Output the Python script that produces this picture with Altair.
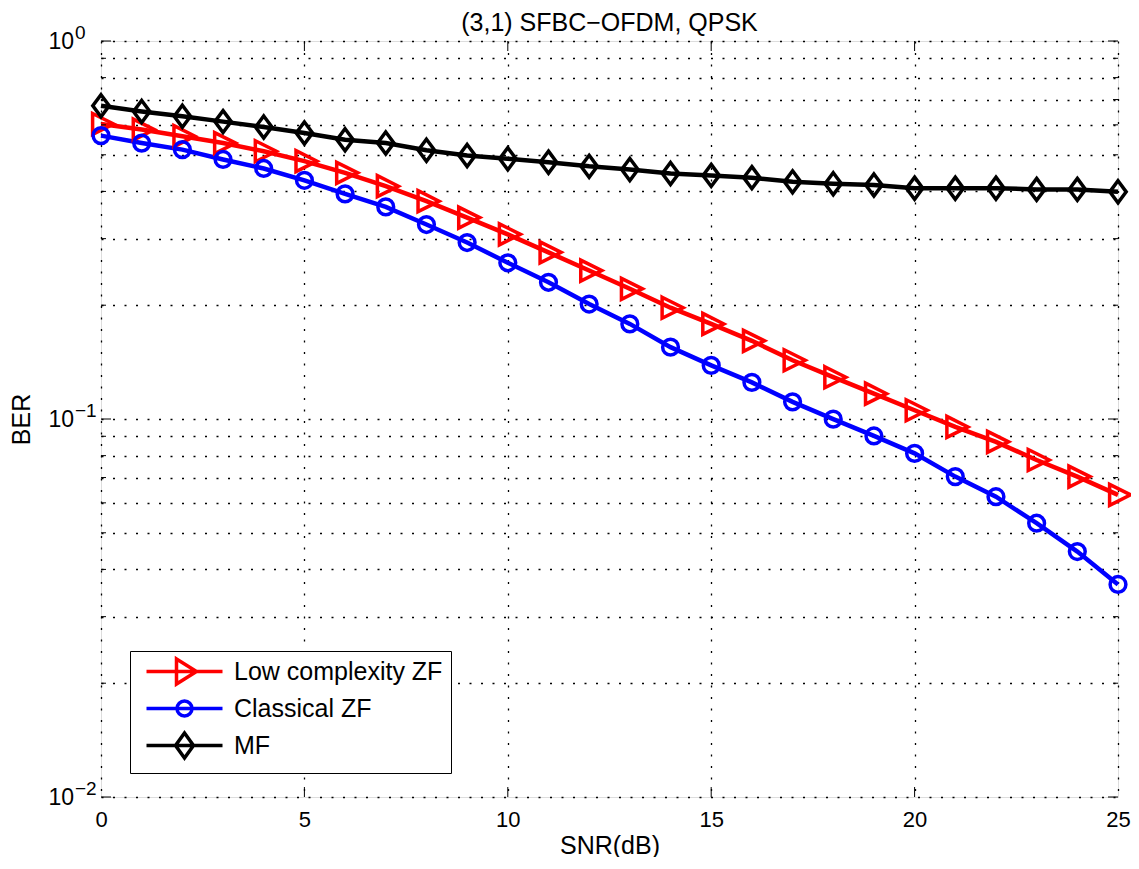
import altair as alt
import pandas as pd

# ---------------- data ----------------
snr_db = list(range(26))
series_names = ["Low complexity ZF", "Classical ZF", "MF"]
series_colors = ["#ff0000", "#0000ff", "#000000"]

ber_low_zf = [0.603, 0.583, 0.560, 0.537, 0.511, 0.481, 0.448, 0.413, 0.377, 0.341,
              0.308, 0.276, 0.247, 0.221, 0.197, 0.1785, 0.161, 0.143, 0.129, 0.1167,
              0.1055, 0.0953, 0.0870, 0.0779, 0.0704, 0.0630]
ber_classical_zf = [0.562, 0.537, 0.516, 0.486, 0.460, 0.428, 0.394, 0.364, 0.327, 0.293,
                    0.259, 0.230, 0.2014, 0.1785, 0.1549, 0.1386, 0.1250, 0.1110, 0.0999, 0.0902,
                    0.0811, 0.0704, 0.0623, 0.0530, 0.0446, 0.0365]
ber_mf = [0.674, 0.651, 0.632, 0.612, 0.592, 0.571, 0.548, 0.537, 0.514, 0.498,
          0.488, 0.478, 0.466, 0.457, 0.446, 0.441, 0.435, 0.424, 0.419, 0.416,
          0.408, 0.408, 0.408, 0.405, 0.405, 0.399]

x_ticks = [0, 5, 10, 15, 20, 25]
x_inner_ticks = [5, 10, 15, 20]
y_major = [0.01, 0.1, 1.0]
y_major_mant = ["10", "10", "10"]
y_major_exp = ["\u22122", "\u22121", "0"]
y_minor = [0.02, 0.03, 0.04, 0.05, 0.06, 0.07, 0.08, 0.09,
           0.2, 0.3, 0.4, 0.5, 0.6, 0.7, 0.8, 0.9]

title_text = "(3,1) SFBC\u2212OFDM, QPSK"

rows = []
for name, vals in zip(series_names, [ber_low_zf, ber_classical_zf, ber_mf]):
    for s, b in zip(snr_db, vals):
        rows.append({"snr": s, "ber": b, "series": name})
df = pd.DataFrame(rows)

# ---------------- styling ----------------
W, H = 1017, 756
FONT = "Liberation Sans"

# marker shapes (custom paths, unit coords)
shape_tri = "M-0.8,-1L1.2,0L-0.8,1Z"
shape_circ = "M-0.75,0A0.75,0.75,0,1,0,0.75,0A0.75,0.75,0,1,0,-0.75,0Z"
shape_dia = "M0,-1.05L0.78,0L0,1.05L-0.78,0Z"
shape_paths = [shape_tri, shape_circ, shape_dia]

# legend symbols: line + marker, shifted right
leg_line = "M-0.4,0L7.2,0"
leg_paths = [
    leg_line + "M2.6,-1.25L4.6,0L2.6,1.25Z",
    leg_line + "M2.65,0A0.75,0.75,0,1,0,4.15,0A0.75,0.75,0,1,0,2.65,0Z",
    leg_line + "M3.4,-1.25L4.3,0L3.4,1.25L2.5,0Z",
]

yscale = alt.Scale(type="log", domain=[0.01, 1], nice=False)
xscale = alt.Scale(domain=[0, 25], nice=False, zero=False)
cscale = alt.Scale(domain=series_names, range=series_colors)

xaxis = alt.Axis(values=x_ticks, grid=True, gridDash=[2, 9.5], gridColor="#000",
                 gridWidth=1.3, gridOpacity=1, ticks=False, tickSize=0, domain=False,
                 labelFontSize=22, labelFont=FONT, labelColor="#000", labelPadding=12,
                 labelFlush=False, title="SNR(dB)", titleFontSize=25, titleFont=FONT,
                 titleFontWeight="normal", titleColor="#000", titleX=W / 2, titleY=56,
                 titleBaseline="alphabetic", titleAlign="center")
yaxis = alt.Axis(values=y_major + y_minor, grid=True, gridDash=[2, 9.5], gridColor="#000",
                 gridWidth=1.3, gridOpacity=1, ticks=False, tickSize=0, domain=False,
                 labels=False, title="BER", titleFontSize=25, titleFont=FONT,
                 titleFontWeight="normal", titleColor="#000", titleX=-72, titleY=H / 2,
                 titleAngle=270, titleBaseline="alphabetic", titleAlign="center")

X = alt.X("snr:Q", scale=xscale, axis=xaxis)
Y = alt.Y("ber:Q", scale=yscale, axis=yaxis)

legend = alt.Legend(
    title=None, orient="none", legendX=29, legendY=610, direction="vertical",
    symbolSize=400, symbolStrokeWidth=3.5, symbolFillColor="transparent",
    labelFontSize=25, labelFont=FONT,
    labelColor="#000", labelOffset=71, padding=8, rowPadding=3,
    strokeColor="#000", fillColor="#fff", labelLimit=500,
)

lines = alt.Chart(df).mark_line(strokeWidth=4.5).encode(
    x=X, y=Y, color=alt.Color("series:N", scale=cscale, legend=legend)
)
point_layers = []
for name, col, shp in zip(series_names, series_colors, shape_paths):
    point_layers.append(
        alt.Chart(df).transform_filter(alt.datum.series == name).mark_point(
            filled=False, strokeWidth=3.5, size=441, opacity=1, shape=shp, color=col
        ).encode(x=X, y=Y)
    )

# legend-only layer (no marks drawn)
legend_layer = alt.Chart(df).transform_filter("false").mark_point(
    filled=False, strokeWidth=3.5, size=400, opacity=1
).encode(
    x=X, y=Y,
    color=alt.Color("series:N", scale=cscale, legend=legend),
    shape=alt.Shape("series:N", scale=alt.Scale(domain=series_names, range=leg_paths),
                    legend=legend),
)

# inward tick marks
ymaj_df = pd.DataFrame({"ber": y_major})
ymin_df = pd.DataFrame({"ber": y_minor})
xt_df = pd.DataFrame({"snr": x_inner_ticks})
tick_layers = []
for d, ln in [(ymaj_df, 10), (ymin_df, 5)]:
    tick_layers.append(alt.Chart(d).mark_rule(color="#000", strokeWidth=1).encode(
        y=Y, x=alt.value(0), x2=alt.value(ln)))
    tick_layers.append(alt.Chart(d).mark_rule(color="#000", strokeWidth=1).encode(
        y=Y, x=alt.value(W), x2=alt.value(W - ln)))
tick_layers.append(alt.Chart(xt_df).mark_rule(color="#000", strokeWidth=1).encode(
    x=X, y=alt.value(H), y2=alt.value(H - 10)))
tick_layers.append(alt.Chart(xt_df).mark_rule(color="#000", strokeWidth=1).encode(
    x=X, y=alt.value(0), y2=alt.value(10)))

# y tick labels as 10^n
lab_df = pd.DataFrame({"ber": y_major, "mant": y_major_mant, "exp": y_major_exp})
mant = alt.Chart(lab_df).mark_text(align="right", baseline="alphabetic", dy=8,
                                   fontSize=23, font=FONT, color="#000").encode(
    y=Y, x=alt.value(-27), text="mant:N")
expo = alt.Chart(lab_df).mark_text(align="left", baseline="alphabetic", dy=-2,
                                   fontSize=19, font=FONT, color="#000").encode(
    y=Y, x=alt.value(-26), text="exp:N")

# chart title as text
title_df = pd.DataFrame({"t": [title_text]})
title_mark = alt.Chart(title_df).mark_text(
    align="center", baseline="alphabetic", fontSize=25, font=FONT, color="#000"
).encode(x=alt.value(W / 2), y=alt.value(-10), text="t:N")

chart = alt.layer(
    lines, *tick_layers, *point_layers, legend_layer, mant, expo, title_mark
).properties(
    width=W, height=H,
    padding={"left": 93, "top": 33, "right": 13, "bottom": 60},
    autosize=alt.AutoSizeParams(type="none"),
).configure_view(
    stroke="#000", strokeWidth=1.2
).configure_legend(
    strokeWidth=1.2, cornerRadius=0
).configure(background="white")

chart.save("out.html", embed_options={"renderer": "svg", "actions": False})
